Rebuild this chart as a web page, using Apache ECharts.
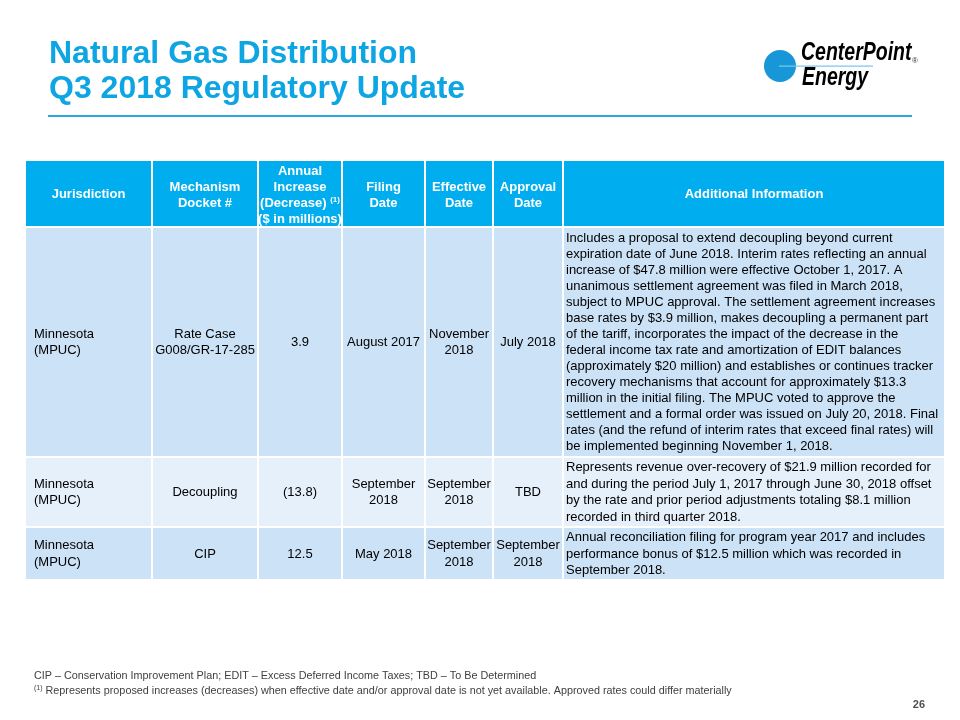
<!DOCTYPE html>
<html>
<head>
<meta charset="utf-8">
<script src="https://cdn.jsdelivr.net/npm/echarts@6/dist/echarts.min.js"></script>
<style>html,body{margin:0;padding:0;background:#fff}#main{width:960px;height:720px}</style>
</head>
<body>
<div id="main"></div>
<script>
// ---------- DATA ----------
const titleLines = ['Natural Gas Distribution', 'Q3 2018 Regulatory Update'];
const headers = ['Jurisdiction', 'Mechanism\nDocket #', 'Annual\nIncrease\n(Decrease) {sup|(1)}\n($ in millions)', 'Filing\nDate', 'Effective\nDate', 'Approval\nDate', 'Additional Information'];
const jurisdictions = ['Minnesota\n(MPUC)', 'Minnesota\n(MPUC)', 'Minnesota\n(MPUC)'];
const mechanisms = ['Rate Case\nG008/GR-17-285', 'Decoupling', 'CIP'];
const annualChange = [3.9, -13.8, 12.5];
const filingDates = ['August 2017', 'September\n2018', 'May 2018'];
const effectiveDates = ['November\n2018', 'September\n2018', 'September\n2018'];
const approvalDates = ['July 2018', 'TBD', 'September\n2018'];
const additionalInfo = [
  'Includes a proposal to extend decoupling beyond current\nexpiration date of June 2018. Interim rates reflecting an annual\nincrease of $47.8 million were effective October 1, 2017. A\nunanimous settlement agreement was filed in March 2018,\nsubject to MPUC approval. The settlement agreement increases\nbase rates by $3.9 million, makes decoupling a permanent part\nof the tariff, incorporates the impact of the decrease in the\nfederal income tax rate and amortization of EDIT balances\n(approximately $20 million) and establishes or continues tracker\nrecovery mechanisms that account for approximately $13.3\nmillion in the initial filing. The MPUC voted to approve the\nsettlement and a formal order was issued on July 20, 2018. Final\nrates (and the refund of interim rates that exceed final rates) will\nbe implemented beginning November 1, 2018.',
  'Represents revenue over-recovery of $21.9 million recorded for\nand during the period July 1, 2017 through June 30, 2018 offset\nby the rate and prior period adjustments totaling $8.1 million\nrecorded in third quarter 2018.',
  'Annual reconciliation filing for program year 2017 and includes\nperformance bonus of $12.5 million which was recorded in\nSeptember 2018.'
];
const footnotes = ['CIP \u2013 Conservation Improvement Plan; EDIT \u2013 Excess Deferred Income Taxes; TBD \u2013 To Be Determined', '{sup|(1)} Represents proposed increases (decreases) when effective date and/or approval date is not yet available. Approved rates could differ materially'];
const pageNumber = '26';

// ---------- LAYOUT ----------
const colWidths = [127, 106, 84, 83, 68, 70, 382];
const rowHeights = [67, 230, 70, 53];
const rowLineHeights = [15.8, 16, 16.4, 16.2];
const rowFills = ['#00AEEF', '#CCE2F6', '#E6F0FA', '#CCE2F6'];
const FONT = '"Liberation Sans", Arial, Helvetica, sans-serif';
const BLUE = '#0EA5E3';

function fmtChange(v) { return v < 0 ? '(' + Math.abs(v).toFixed(1) + ')' : v.toFixed(1); }

const bodyRows = jurisdictions.map((j, i) => [j, mechanisms[i], fmtChange(annualChange[i]), filingDates[i], effectiveDates[i], approvalDates[i], additionalInfo[i]]);
const allRows = [headers].concat(bodyRows);

const cells = [];
const cellData = [];
let y0 = 0;
allRows.forEach((row, r) => {
  let x0 = 0;
  row.forEach((txt, c) => {
    cellData.push([x0, y0, x0 + colWidths[c], y0 + rowHeights[r]]);
    cells.push({ r, c, txt });
    x0 += colWidths[c];
  });
  y0 += rowHeights[r];
});
const totalW = colWidths.reduce((a, b) => a + b, 0);
const totalH = rowHeights.reduce((a, b) => a + b, 0);

const chart = echarts.init(document.getElementById('main'));

function renderItem(params, api) {
  const cell = cells[params.dataIndex];
  const p0 = api.coord([api.value(0), api.value(1)]);
  const p1 = api.coord([api.value(2), api.value(3)]);
  const w = p1[0] - p0[0], h = p1[1] - p0[1];
  const isHead = cell.r === 0;
  const multi = cell.txt.indexOf('\n') >= 0;
  let align = 'center', tx = p0[0] + w / 2;
  if (!isHead && cell.c === 0) { align = 'left'; tx = p0[0] + 9; }
  if (!isHead && cell.c === 6) { align = 'left'; tx = p0[0] + 3; }
  let dy = isHead ? (multi ? 2 : 0.5) : 0.5;
  return {
    type: 'group',
    children: [
      { type: 'rect', shape: { x: p0[0], y: p0[1], width: w, height: h }, style: { fill: rowFills[cell.r], stroke: '#ffffff', lineWidth: 2 } },
      { type: 'text', x: tx, y: p0[1] + h / 2 + dy, style: {
          text: cell.txt, align: align, verticalAlign: 'middle',
          fill: isHead ? '#ffffff' : '#000000',
          fontFamily: FONT, fontSize: 13, fontWeight: isHead ? 'bold' : 'normal',
          lineHeight: rowLineHeights[cell.r],
          rich: { sup: { fontSize: 8, fontWeight: 'bold', fill: '#ffffff', verticalAlign: 'top', padding: [0, 0, 6, 0], fontFamily: FONT } }
      } }
    ]
  };
}

chart.setOption({
  animation: false,
  backgroundColor: '#ffffff',
  grid: { left: 25, top: 160, width: 920, height: 420 },
  xAxis: { type: 'value', min: 0, max: totalW, show: false },
  yAxis: { type: 'value', min: 0, max: totalH, inverse: true, show: false },
  series: [{ type: 'custom', renderItem: renderItem, data: cellData, clip: false, silent: true }],
  graphic: [
    { type: 'text', left: 49, top: 37, style: { text: titleLines.join('\n'), fill: BLUE, fontFamily: FONT, fontSize: 32, fontWeight: 'bold', lineHeight: 35 } },
    { type: 'rect', shape: { x: 48, y: 115, width: 864, height: 2 }, style: { fill: '#2AA8E0' } },
    // logo
    { type: 'circle', shape: { cx: 780, cy: 66, r: 16 }, style: { fill: '#1797D7' } },
    { type: 'rect', shape: { x: 779, y: 65.5, width: 94, height: 1.2 }, style: { fill: '#7CC6EA' } },
    { type: 'text', x: 801, y: 41, scaleX: 0.78, style: { text: 'CenterPoint', fill: '#000', fontFamily: FONT, fontSize: 25, fontWeight: 'bold', fontStyle: 'italic' } },
    { type: 'text', x: 802, y: 66, scaleX: 0.78, style: { text: 'Energy', fill: '#000', fontFamily: FONT, fontSize: 25, fontWeight: 'bold', fontStyle: 'italic' } },
    { type: 'text', x: 912, y: 57, style: { text: '\u00AE', fill: '#333', fontFamily: FONT, fontSize: 8 } },
    // footnotes
    { type: 'text', x: 34, y: 676, style: { text: footnotes[0], fill: '#404040', fontFamily: FONT, fontSize: 10.8, verticalAlign: 'middle' } },
    { type: 'text', x: 34, y: 691, style: { text: footnotes[1], fill: '#404040', fontFamily: FONT, fontSize: 10.8, verticalAlign: 'middle',
        rich: { sup: { fontSize: 7, fill: '#404040', verticalAlign: 'top', padding: [0, 0, 5, 0], fontFamily: FONT } } } },
    { type: 'text', x: 925, y: 705, style: { text: pageNumber, fill: '#505050', fontFamily: FONT, fontSize: 11, fontWeight: 'bold', align: 'right', verticalAlign: 'middle' } }
  ]
});
</script>
</body>
</html>
